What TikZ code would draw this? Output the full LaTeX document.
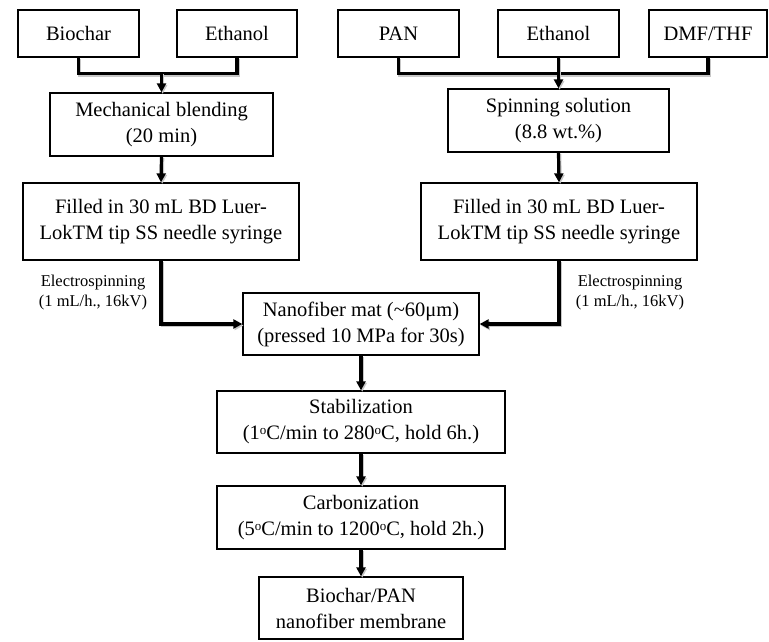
\documentclass[tikz,border=0pt]{standalone}
\usepackage{fontspec}
\setmainfont{Liberation Serif}
\usetikzlibrary{arrows.meta}
\newcommand{\degsym}{{\fontsize{13}{13}\selectfont\raisebox{5pt}{o}}}
\begin{document}
\begin{tikzpicture}[x=1pt,y=-1pt,
  box/.style={draw=black,line width=1.3pt,inner sep=0pt,align=center,
    font=\fontsize{20.5}{26}\selectfont},
  conn/.style={line width=3.2pt,
    preaction={draw=black!22,line width=3.2pt,transform canvas={shift={(1.2pt,-1.5pt)}}}},
  arr/.style={conn,-{Triangle[length=9pt,width=9pt]}},
  lbl/.style={align=center,font=\fontsize{16.5}{20}\selectfont}]
\useasboundingbox (0,0) rectangle (769,642);
% top row
\node[box,minimum width=121pt,minimum height=47pt] (bio) at (78.5,33.5) {Biochar};
\node[box,minimum width=120pt,minimum height=47pt] (eth1) at (237,33.5) {Ethanol};
\node[box,minimum width=121pt,minimum height=47pt] (pan) at (398.5,33.5) {PAN};
\node[box,minimum width=121pt,minimum height=47pt] (eth2) at (558.5,33.5) {Ethanol};
\node[box,minimum width=118pt,minimum height=47pt] (dmf) at (708,33.5) {DMF/THF};
% second row
\node[box,minimum width=223pt,minimum height=63pt] (mech) at (161.5,124.5) {Mechanical blending\\(20 min)};
\node[box,minimum width=221pt,minimum height=63pt] (spin) at (558.5,120.5) {Spinning solution\\(8.8 wt.\%)};
% third row
\node[box,minimum width=276pt,minimum height=77pt] (fill1) at (161,221.5) {Filled in 30 mL BD Luer-\\LokTM tip SS needle syringe};
\node[box,minimum width=276pt,minimum height=77pt] (fill2) at (559,221.5) {Filled in 30 mL BD Luer-\\LokTM tip SS needle syringe};
% centre column
\node[box,minimum width=236pt,minimum height=62pt] (nano) at (361,324) {Nanofiber mat (\textasciitilde60μm)\\(pressed 10 MPa for 30s)};
\node[box,minimum width=288pt,minimum height=62pt] (stab) at (361,422) {Stabilization\\(1\degsym C/min to 280\degsym C, hold 6h.)};
\node[box,minimum width=288pt,minimum height=63pt] (carb) at (361,517.5) {Carbonization\\(5\degsym C/min to 1200\degsym C, hold 2h.)};
\node[box,minimum width=204pt,minimum height=62pt] (final) at (361,608) {Biochar/PAN\\nanofiber membrane};
% labels
\node[lbl] (el) at (93,293) {Electrospinning\\(1 mL/h., 16kV)};
\node[lbl] (er) at (630,293) {Electrospinning\\(1 mL/h., 16kV)};
% connectors left merge
\path (mech.north) ++(0,-20) coordinate (j1);
\draw[conn] (bio.south) -- ++(0,16) -| (eth1.south);
\draw[arr] (j1) -- (mech.north);
% right merge
\draw[conn] (pan.south) -- ++(0,16) -| (dmf.south);
\draw[arr] (eth2.south) -- (spin.north);
% down
\draw[arr] (mech.south) -- (fill1.north);
\draw[arr] (spin.south) -- (fill2.north);
\draw[arr] (fill1.south) |- (nano.west);
\draw[arr] (fill2.south) |- (nano.east);
\draw[arr] (nano.south) -- (stab.north);
\draw[arr] (stab.south) -- (carb.north);
\draw[arr] (carb.south) -- (final.north);
\end{tikzpicture}
\end{document}
